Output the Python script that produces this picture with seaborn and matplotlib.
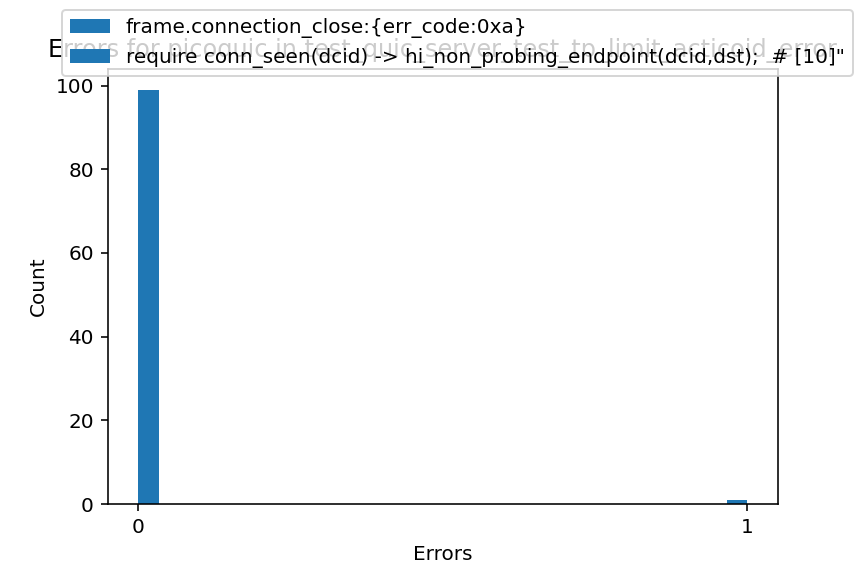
import numpy as np
import pandas as pd
import matplotlib
matplotlib.use("Agg")
import matplotlib.pyplot as plt
import seaborn as sns

# data
error_values = [0, 1]
error_counts = [99, 1]
legend_labels = [
    "frame.connection_close:{err_code:0xa}",
    'require conn_seen(dcid) -> hi_non_probing_endpoint(dcid,dst);  # [10]"',
]
title_text = "Errors for picoquic in test_quic_server_test_tp_limit_acticoid_error"

df = pd.DataFrame({"Errors": np.repeat(error_values, error_counts)})

fig = plt.figure(figsize=(6, 4), dpi=144)
ax = fig.add_axes([0.125, 0.125, 0.775, 0.755])
sns.histplot(data=df, x="Errors", bins=30, ax=ax, color="#1f77b4",
             alpha=1.0, edgecolor="none", linewidth=0)
ax.set_xticks([0, 1])
ax.set_xlabel("Errors")
ax.set_ylabel("Count")
ax.set_title(title_text, fontsize=12)
ax.margins(x=0.05)

handles = [ax.patches[0], ax.patches[1]]
fig.legend(handles, legend_labels, loc="upper left",
           bbox_to_anchor=(62 / 864, 1 - 10 / 576), borderaxespad=0,
           fontsize=10)

fig.savefig("out.png", dpi=144)
